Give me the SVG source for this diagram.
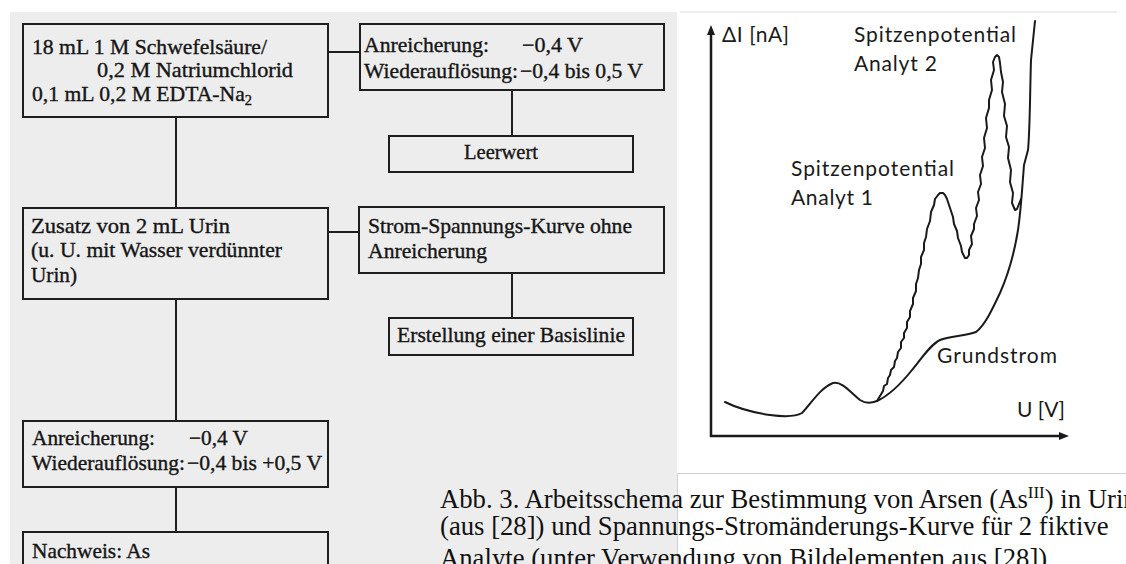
<svg xmlns="http://www.w3.org/2000/svg" width="1126" height="564" viewBox="0 0 1126 564">
<style>
.box{fill:none;stroke:#1e1e1e;stroke-width:2}
.con{stroke:#1e1e1e;stroke-width:2;fill:none}
.t{font-family:"Liberation Serif","Times New Roman",serif;font-size:21px;fill:#151515;stroke:#151515;stroke-width:0.35}
.s{font-family:Lato,"Open Sans",sans-serif;font-size:21px;fill:#1a1a1a}
.cap{font-family:"Liberation Serif","Times New Roman",serif;font-size:26.7px;fill:#111}
.curve{fill:none;stroke:#1a1a1a;stroke-width:2;stroke-linejoin:round;stroke-linecap:round}
.axis{stroke:#1a1a1a;stroke-width:2.5}
</style>
<rect width="1126" height="564" fill="#ffffff"/>
<rect x="10" y="12" width="667" height="552" fill="#ededed"/>
<line x1="680" y1="12" x2="1117" y2="12" stroke="#dcdcdc" stroke-width="1"/>
<rect x="677" y="473" width="449" height="91" fill="#ffffff"/>
<path d="M677.5,564 V473.5 H1126" fill="none" stroke="#d0d0d0" stroke-width="1"/>

<g id="connectors">
<line class="con" x1="328" y1="52" x2="360" y2="52"/>
<line class="con" x1="512" y1="90" x2="512" y2="136"/>
<line class="con" x1="176" y1="117" x2="176" y2="208"/>
<line class="con" x1="328" y1="232" x2="359" y2="232"/>
<line class="con" x1="512" y1="273" x2="512" y2="318"/>
<line class="con" x1="176" y1="299" x2="176" y2="421"/>
<line class="con" x1="176" y1="487" x2="176" y2="532"/>
</g>

<g id="n1">
<rect class="box" x="23" y="24" width="305" height="93"/>
<text class="t" x="32" y="54" textLength="235" lengthAdjust="spacingAndGlyphs">18 mL 1 M Schwefelsäure/</text>
<text class="t" x="97" y="77" textLength="196" lengthAdjust="spacingAndGlyphs">0,2 M Natriumchlorid</text>
<text class="t" x="32" y="101" textLength="220" lengthAdjust="spacingAndGlyphs">0,1 mL 0,2 M EDTA-Na<tspan dy="4" font-size="14">2</tspan></text>
</g>
<g id="n2">
<rect class="box" x="360" y="24" width="304" height="66"/>
<text class="t" x="364" y="52" textLength="125" lengthAdjust="spacingAndGlyphs">Anreicherung:</text>
<text class="t" x="522" y="52" textLength="61" lengthAdjust="spacingAndGlyphs">−0,4 V</text>
<text class="t" x="364" y="78" textLength="154" lengthAdjust="spacingAndGlyphs">Wiederauflösung:</text>
<text class="t" x="520" y="78" textLength="123" lengthAdjust="spacingAndGlyphs">−0,4 bis 0,5 V</text>
</g>
<g id="n3">
<rect class="box" x="389" y="136" width="244" height="36"/>
<text class="t" x="464" y="159" textLength="74" lengthAdjust="spacingAndGlyphs">Leerwert</text>
</g>
<g id="n4">
<rect class="box" x="23" y="208" width="305" height="91"/>
<text class="t" x="31" y="233" textLength="199" lengthAdjust="spacingAndGlyphs">Zusatz von 2 mL Urin</text>
<text class="t" x="31" y="257" textLength="251" lengthAdjust="spacingAndGlyphs">(u. U. mit Wasser verdünnter</text>
<text class="t" x="31" y="282" textLength="46" lengthAdjust="spacingAndGlyphs">Urin)</text>
</g>
<g id="n5">
<rect class="box" x="359" y="207" width="305" height="66"/>
<text class="t" x="368" y="233" textLength="264" lengthAdjust="spacingAndGlyphs">Strom-Spannungs-Kurve ohne</text>
<text class="t" x="368" y="258" textLength="119" lengthAdjust="spacingAndGlyphs">Anreicherung</text>
</g>
<g id="n6">
<rect class="box" x="389" y="318" width="244" height="37"/>
<text class="t" x="397" y="342" textLength="228" lengthAdjust="spacingAndGlyphs">Erstellung einer Basislinie</text>
</g>
<g id="n7">
<rect class="box" x="23" y="421" width="305" height="66"/>
<text class="t" x="32" y="445" textLength="123" lengthAdjust="spacingAndGlyphs">Anreicherung:</text>
<text class="t" x="189" y="445" textLength="59" lengthAdjust="spacingAndGlyphs">−0,4 V</text>
<text class="t" x="32" y="470" textLength="153" lengthAdjust="spacingAndGlyphs">Wiederauflösung:</text>
<text class="t" x="187" y="470" textLength="135" lengthAdjust="spacingAndGlyphs">−0,4 bis +0,5 V</text>
</g>
<g id="n8">
<rect class="box" x="23" y="532" width="305" height="50"/>
<text class="t" x="32" y="558" textLength="118" lengthAdjust="spacingAndGlyphs">Nachweis: As</text>
</g>

<g id="chart">
<line class="axis" x1="711" y1="33" x2="711" y2="437"/>
<line class="axis" x1="710" y1="436" x2="1060" y2="436"/>
<polygon points="711,25 707,35 715,35" fill="#1a1a1a"/>
<polygon points="1069,436 1059,432 1059,440" fill="#1a1a1a"/>
<path class="curve" d="M725,402 C735,407 750,412 770,415 C785,417 795,417 802,413 C810,405 820,388 833,383 C842,381 850,392 860,400 C866,404 872,403 877,401"/>
<path class="curve" d="M877,401 C890,395 900,385 912,370 C922,358 930,345 940,340 C950,336 965,336 976,332 C985,325 992,310 1000,293 C1008,275 1014,255 1018,230 C1021,210 1022,190 1024,165 L1028,150 C1030,130 1030,90 1031,60 L1035,21"/>
<polyline class="curve" points="877,401 880,396 883,391 884,386 887,384 888,378 890,375 891,370 894,367 895,361 897,358 898,352 901,348 901,342 904,338 904,333 907,328 907,322 910,317 910,311 913,304 913,298 916,291 916,284 918,278 919,270 921,264 921,257 924,250 924,243 926,237 927,229 930,221 931,212 934,205 935,199 938,195 940,193 943,193 945,195 947,199 949,205 951,211 953,217 954,224 957,231 958,238 961,246 962,252 965,258 967,258 969,255 969,250 972,244 971,236 974,229 974,224 977,216 976,208 979,200 978,192 981,184 980,175 983,166 982,157 985,148 984,138 987,128 986,118 989,108 989,100 992,90 991,80 994,70 993,62 995,57 997,55 999,57 1000,63 1001,72 1003,82 1002,92 1005,104 1004,116 1007,126 1006,137 1009,147 1008,158 1011,170 1010,182 1013,193 1012,203 1015,210 1017,209 1019,204 1021,199"/>
<text class="s" x="722" y="42" textLength="67">ΔI [nA]</text>
<text class="s" x="854" y="42" textLength="162">Spitzenpotential</text>
<text class="s" x="854" y="71" textLength="83">Analyt 2</text>
<text class="s" x="791" y="176" textLength="163">Spitzenpotential</text>
<text class="s" x="791" y="205" textLength="82">Analyt 1</text>
<text class="s" x="937" y="363" textLength="120">Grundstrom</text>
<text class="s" x="1017" y="417" textLength="48">U [V]</text>
</g>

<g id="caption">
<text class="cap" x="440" y="508">Abb. 3. Arbeitsschema zur Bestimmung von Arsen (As<tspan dy="-10" font-size="17">III</tspan><tspan dy="10">) in Urin</tspan></text>
<text class="cap" x="440" y="535">(aus [28]) und Spannungs-Stromänderungs-Kurve für 2 fiktive</text>
<text class="cap" x="440" y="567">Analyte (unter Verwendung von Bildelementen aus [28])</text>
</g>
</svg>
